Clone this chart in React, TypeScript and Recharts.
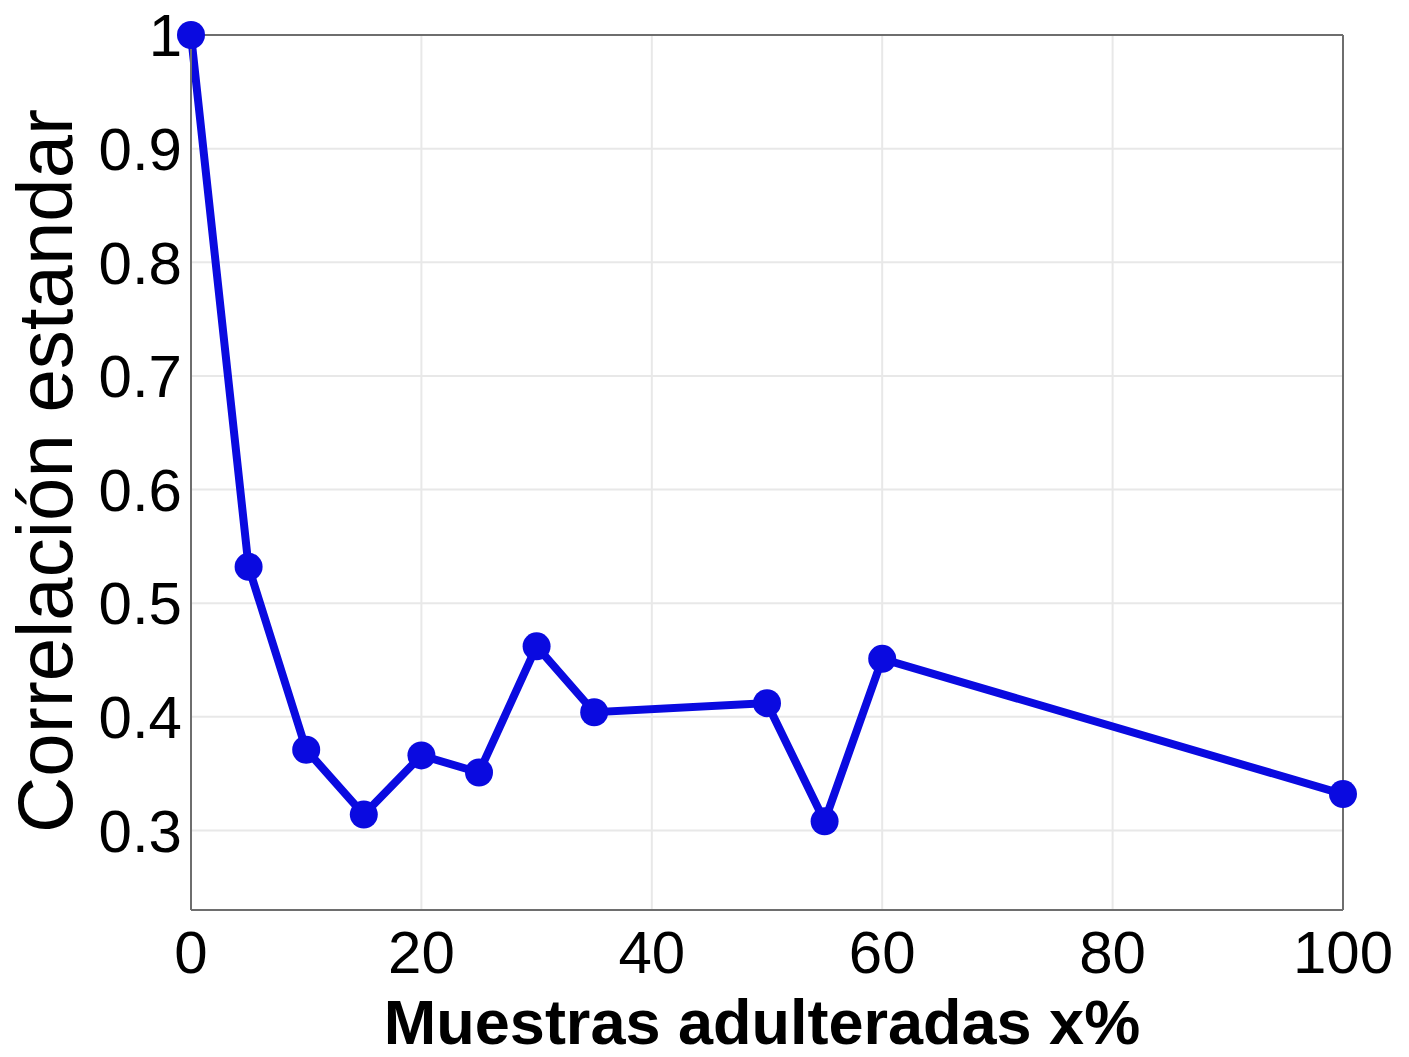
import React from 'react';
import { LineChart, Line, XAxis, YAxis, CartesianGrid, ReferenceLine } from 'recharts';

const adulteration = [0, 5, 10, 15, 20, 25, 30, 35, 50, 55, 60, 100];
const correlation = [1.0, 0.532, 0.371, 0.314, 0.366, 0.351, 0.462, 0.404, 0.412, 0.308, 0.451, 0.332];
const xTicks = [0, 20, 40, 60, 80, 100];
const yTicks = [0.3, 0.4, 0.5, 0.6, 0.7, 0.8, 0.9, 1];
const xTitle = 'Muestras adulteradas x%';
const yTitle = 'Correlación estandar';

const data = adulteration.map((x, i) => ({ x, y: correlation[i] }));

const FONT = '"Liberation Sans", Arial, Helvetica, sans-serif';
const BLUE = '#0a0ae0';
const FRAME = '#6e6e6e';

const fmtY = (v: number) => (v === 1 ? '1' : v.toFixed(1));

export default function App() {
  return (
    <div style={{ position: 'absolute', left: 0, top: 0, background: '#fff' }}>
      <LineChart
        width={1409}
        height={1057}
        data={data}
        margin={{ top: 35, right: 66, left: 0, bottom: 0 }}
      >
        <CartesianGrid xAxisId="main" yAxisId="main" stroke="#e8e8e8" strokeWidth={2} />
        <XAxis
          xAxisId="main"
          dataKey="x"
          type="number"
          domain={[0, 100]}
          ticks={xTicks}
          height={147}
          tickSize={0}
          tickMargin={20}
          axisLine={{ stroke: FRAME, strokeWidth: 2 }}
          tickLine={false}
          tick={{ fontSize: 60, fill: '#000', fontFamily: FONT }}
          label={(props: any) => {
            const vb = props.viewBox || { x: 191, width: 1152 };
            return (
              <text
                x={vb.x + vb.width / 2 - 5}
                y={1044}
                textAnchor="middle"
                fontSize={63}
                fontWeight="bold"
                fontFamily={FONT}
                fill="#000"
              >
                {xTitle}
              </text>
            );
          }}
        />
        <YAxis
          yAxisId="main"
          type="number"
          domain={[0.23, 1]}
          ticks={yTicks}
          width={191}
          tickSize={0}
          tickMargin={9}
          tickFormatter={fmtY}
          axisLine={{ stroke: FRAME, strokeWidth: 2 }}
          tickLine={false}
          tick={{ fontSize: 60, fill: '#000', fontFamily: FONT }}
          label={() => (
            <text
              x={72}
              y={471}
              transform="rotate(-90 72 471)"
              textAnchor="middle"
              fontSize={78}
              fontFamily={FONT}
              fill="#000"
            >
              {yTitle}
            </text>
          )}
        />
        <ReferenceLine xAxisId="main" yAxisId="main" y={1} stroke={FRAME} strokeWidth={2} />
        <ReferenceLine xAxisId="main" yAxisId="main" x={100} stroke={FRAME} strokeWidth={2} />
        <Line
          xAxisId="main"
          yAxisId="main"
          type="linear"
          dataKey="y"
          stroke={BLUE}
          strokeWidth={8}
          dot={{ r: 14, fill: BLUE, stroke: BLUE, strokeWidth: 0 }}
          isAnimationActive={false}
        />
      </LineChart>
    </div>
  );
}
